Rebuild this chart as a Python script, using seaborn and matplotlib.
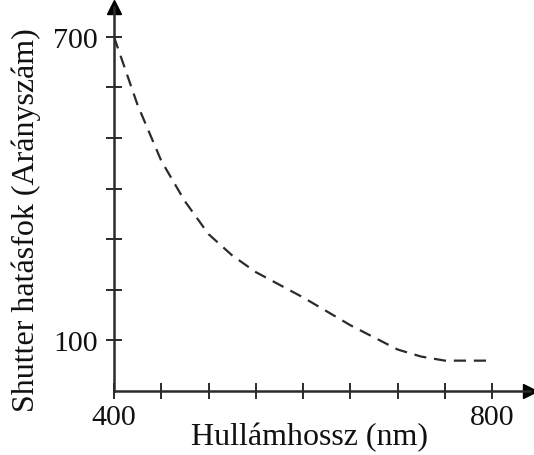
import matplotlib
matplotlib.use("Agg")
import matplotlib.pyplot as plt
import seaborn as sns
import pandas as pd

# Shutter efficiency versus wavelength
wavelength_nm = [400, 425, 450, 475, 500, 525, 550, 600, 650, 700, 725, 750, 800]
efficiency = [700, 565, 455, 375, 310, 268, 235, 185, 130, 82, 68, 60, 60]

x_ticks = [400, 450, 500, 550, 600, 650, 700, 750, 800]
x_tick_labels = ["400", "", "", "", "", "", "", "", "800"]
y_ticks = [100, 200, 300, 400, 500, 600, 700]
y_tick_labels = ["100", "", "", "", "", "", "700"]

sns.set_style("ticks")
plt.rcParams["font.family"] = ["Liberation Serif", "DejaVu Serif"]

ink = "#2b2b2b"
fig = plt.figure(figsize=(5.34, 4.56), dpi=100)
ax = fig.add_axes([114 / 534, 64 / 456, (530 - 114) / 534, (392 - 8) / 456])

df = pd.DataFrame({"wavelength": wavelength_nm, "efficiency": efficiency})
sns.lineplot(data=df, x="wavelength", y="efficiency", ax=ax, color=ink,
             linewidth=1.6, linestyle=(0, (5.5, 3.5)))

ax.set_xlim(400, 840)
ax.set_ylim(0, 759)

for side in ("top", "right"):
    ax.spines[side].set_visible(False)
for side in ("left", "bottom"):
    ax.spines[side].set_color(ink)
    ax.spines[side].set_linewidth(1.8)

ax.set_xticks(x_ticks)
ax.set_xticklabels(x_tick_labels)
ax.set_yticks(y_ticks)
ax.set_yticklabels(y_tick_labels)
ax.tick_params(axis="both", direction="inout", length=11, width=1.4,
               color=ink, labelsize=21.5, labelcolor="#111111")
ax.tick_params(axis="x", pad=4)
ax.tick_params(axis="y", pad=6)

# arrow heads at the ends of both axes
ax.plot(1, 0, marker=">", markersize=10, color="black",
        transform=ax.transAxes, clip_on=False)
ax.plot(0, 1, marker="^", markersize=10, color="black",
        transform=ax.transAxes, clip_on=False)

ax.set_xlabel("Hullámhossz (nm)", fontsize=23, color="#111111")
ax.set_ylabel("Shutter hatásfok (Arányszám)", fontsize=23, color="#111111")
ax.xaxis.set_label_coords(0.471, -0.08)
ax.yaxis.set_label_coords(-0.175, 0.448)

fig.savefig("out.png", dpi=100, facecolor="white")
